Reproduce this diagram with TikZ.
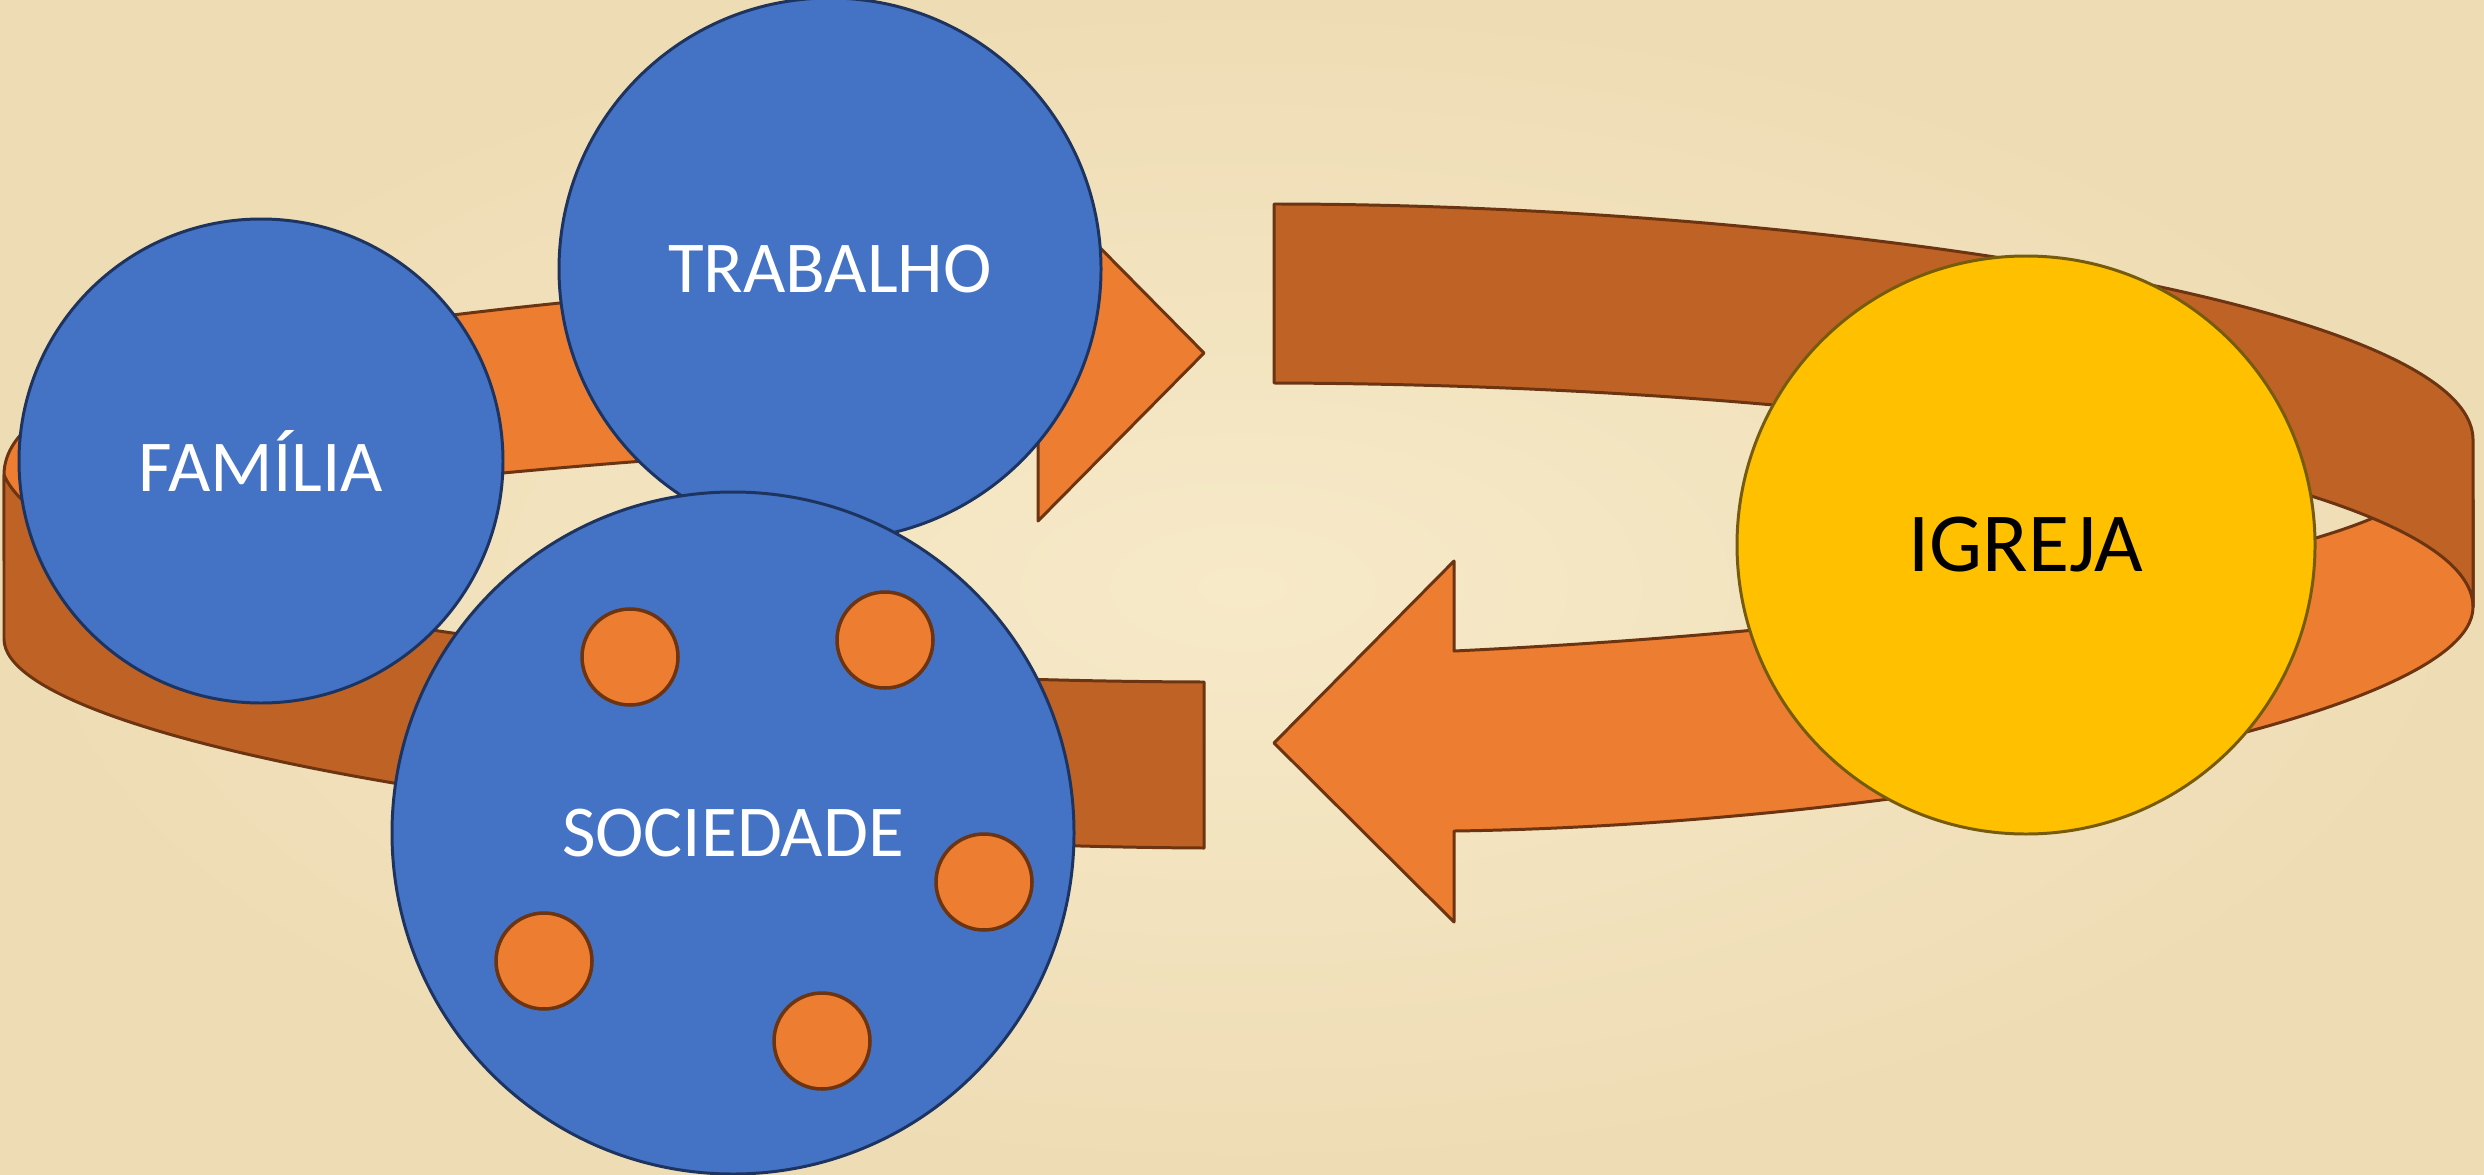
\documentclass[tikz,border=0pt]{standalone}
\usepackage{fontspec}
\setmainfont{Carlito}
\usetikzlibrary{
  calc,
  positioning,
}
\definecolor{parchment}{RGB}{247,234,201}
\definecolor{parchmentdark}{RGB}{238,220,180}
\definecolor{sphereblue}{RGB}{68,114,196}
\definecolor{sphereline}{RGB}{30,52,96}
\definecolor{ribbonorange}{RGB}{237,125,49}
\definecolor{ribbonbrown}{RGB}{191,98,38}
\definecolor{ribbonline}{RGB}{108,52,16}
\definecolor{churchgold}{RGB}{255,192,0}
\definecolor{churchline}{RGB}{118,92,10}
\tikzset{
  sphere/.style={draw=sphereline,line width=0.85pt,fill=sphereblue,circle,inner sep=0pt,text=white,font=\fontsize{20.8}{25}\selectfont},
  seed/.style={draw=ribbonline,line width=1pt,fill=ribbonorange,circle,inner sep=0pt,minimum size=0.96cm},
  ribbontop/.style={draw=ribbonline,line width=0.85pt,fill=ribbonorange,line join=round},
  ribbonside/.style={draw=ribbonline,line width=0.85pt,fill=ribbonbrown,line join=round},
}

\begin{document}
\begin{tikzpicture}[x=0.1mm,y=-0.1mm]

        \shade[inner color=parchment,outer color=parchmentdark] (0,0) rectangle (2484,1174);
        \useasboundingbox (0,0) rectangle (2484,1174);

        % left ribbon
        \draw[ribbontop] (4,475) .. controls (4,380) and (250,335) .. (560,303) -- (1038,269) -- (1038,185) -- (1204,353) -- (1038,521) -- (1038,437)
            .. controls (800,448) and (620,462) .. (503,473) -- (150,700) -- (4,560) -- cycle;
        \draw[ribbonside] (4,475) -- (4,639) .. controls (4,740) and (600,845) .. (1204,848) -- (1204,682)
            .. controls (600,680) and (60,600) .. (4,475) -- cycle;

        % right ribbon
        \draw[ribbontop] (1454,651) .. controls (1900,630) and (2250,570) .. (2373,518) -- (2473,500) -- (2473,607)
            .. controls (2473,720) and (1900,825) .. (1454,831) -- (1454,922) -- (1274,743) -- (1454,561) -- cycle;
        \draw[ribbonside] (1274,204) .. controls (1800,204) and (2473,300) .. (2473,440) -- (2473,607)
            .. controls (2473,480) and (1900,385) .. (1274,383) -- cycle;

        \node[sphere,minimum size=5.42cm]    (trabalho)     at (830,269)    {TRABALHO};
        \node[sphere,minimum size=4.84cm]    (familia)      at (261,461)    {FAMÍLIA};
        \node[sphere,minimum size=6.82cm]    (sociedade)    at (733,833)    {SOCIEDADE};

        \node[seed]    (seed1)    at (630,657)     {};
        \node[seed]    (seed2)    at (885,640)     {};
        \node[seed]    (seed3)    at (984,882)     {};
        \node[seed]    (seed4)    at (544,961)     {};
        \node[seed]    (seed5)    at (822,1041)    {};

        \node[sphere,draw=churchline,fill=churchgold,text=black,minimum size=5.78cm,font=\fontsize{23.9}{28}\selectfont]    (igreja)    at (2026,545)    {IGREJA};

\end{tikzpicture}
\end{document}
